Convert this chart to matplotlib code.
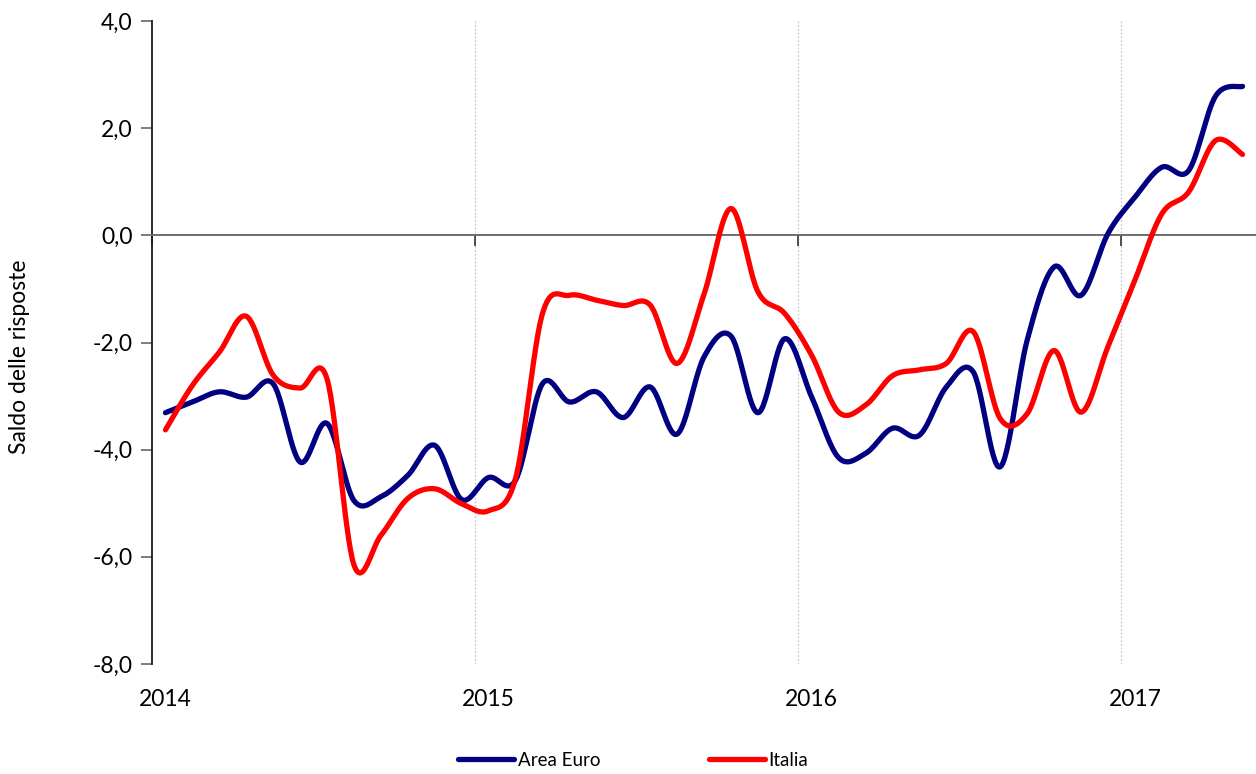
import numpy as np
import matplotlib
matplotlib.use("Agg")
import matplotlib.pyplot as plt
from matplotlib.transforms import blended_transform_factory

# ---- data (monthly, Jan 2014 - May 2017) ----
area_euro = [-3.31, -3.11, -2.92, -3.02, -2.77, -4.23, -3.51, -4.95, -4.88, -4.48,
             -3.92, -4.93, -4.52, -4.57, -2.77, -3.11, -2.92, -3.40, -2.83, -3.71,
             -2.27, -1.88, -3.31, -1.93, -3.02, -4.15, -4.07, -3.60, -3.73, -2.83,
             -2.55, -4.32, -1.96, -0.59, -1.12, 0.03, 0.71, 1.27, 1.21, 2.60, 2.78]
italia = [-3.63, -2.80, -2.18, -1.51, -2.61, -2.85, -2.68, -6.15, -5.60, -4.91,
          -4.73, -5.01, -5.14, -4.54, -1.46, -1.12, -1.21, -1.31, -1.30, -2.39,
          -1.10, 0.50, -1.05, -1.46, -2.24, -3.30, -3.17, -2.62, -2.51, -2.39,
          -1.80, -3.42, -3.33, -2.15, -3.30, -2.08, -0.84, 0.40, 0.81, 1.77, 1.51]
years = ["2014", "2015", "2016", "2017"]
series_names = ["Area Euro", "Italia"]
series_colors = ["#000080", "#FF0000"]
y_ticks = [-8, -6, -4, -2, 0, 2, 4]


def excel_smooth(xs, ys, n=30):
    xs = np.asarray(xs, float)
    ys = np.asarray(ys, float)
    P = np.column_stack([xs, ys])
    m = len(P)
    out = []
    for i in range(m - 1):
        p0 = P[i - 1] if i > 0 else P[i]
        p1 = P[i]
        p2 = P[i + 1]
        p3 = P[i + 2] if i + 2 < m else P[i + 1]
        c1 = p1 + (p2 - p0) / 6.0
        c2 = p2 - (p3 - p1) / 6.0
        t = np.linspace(0, 1, n, endpoint=(i == m - 2))[:, None]
        seg = ((1 - t) ** 3) * p1 + 3 * ((1 - t) ** 2) * t * c1 + 3 * (1 - t) * t ** 2 * c2 + t ** 3 * p2
        out.append(seg)
    out = np.vstack(out)
    return out[:, 0], out[:, 1]


plt.rcParams['font.family'] = ['Lato', 'DejaVu Sans']

fig = plt.figure(figsize=(12.56, 7.74), dpi=100)
ax = fig.add_axes([152 / 1256, 1 - 664 / 774, 1 - 152 / 1256, (664 - 21) / 774])

x = np.arange(len(area_euro)) + 0.5
lines = []
for vals, name, col in zip([area_euro, italia], series_names, series_colors):
    sx, sy = excel_smooth(x, vals)
    ln, = ax.plot(sx, sy, color=col, lw=3.8, solid_capstyle='round', label=name, zorder=3)
    lines.append(ln)

ax.set_xlim(0, len(area_euro))
ax.set_ylim(-8, 4)

# vertical dotted gridlines at year boundaries
for k in range(1, len(years)):
    ax.axvline(12 * k, color='#c8c8c8', lw=0.9, ls=(0, (1.5, 1.5)), zorder=1)

# zero line as x axis
ax.spines['bottom'].set_position(('data', 0))
ax.spines['bottom'].set_color('#6e6e6e')
ax.spines['bottom'].set_linewidth(1.4)
ax.spines['top'].set_visible(False)
ax.spines['right'].set_visible(False)
ax.spines['left'].set_color('#1a1a1a')
ax.spines['left'].set_linewidth(1.3)

ax.set_xticks([12 * k for k in range(len(years))])
ax.set_xticklabels([])
ax.tick_params(axis='x', direction='out', length=8, width=1.2, color='#333333')

ax.set_yticks(y_ticks)
ax.set_yticklabels([f"{v:.1f}".replace('.', ',') for v in y_ticks], fontsize=16.5)
ax.tick_params(axis='y', direction='out', length=8, width=1.2, color='#666666', pad=6)

trans = blended_transform_factory(ax.transData, ax.transAxes)
for k, yr in enumerate(years):
    ax.text(12 * k + 0.5, -0.055, yr, transform=trans, ha='center', va='center', fontsize=16.5)

fig.text(20 / 1256, 1 - 357 / 774, "Saldo delle risposte", rotation=90, ha='center', va='center', fontsize=16.5)

fig.legend(handles=lines, labels=series_names, loc='center', bbox_to_anchor=(633 / 1256, 1 - 760 / 774),
           ncol=2, frameon=False, fontsize=13.5, handlelength=3.0, handletextpad=0.2, columnspacing=5.8)

fig.savefig("out.png", dpi=100)
